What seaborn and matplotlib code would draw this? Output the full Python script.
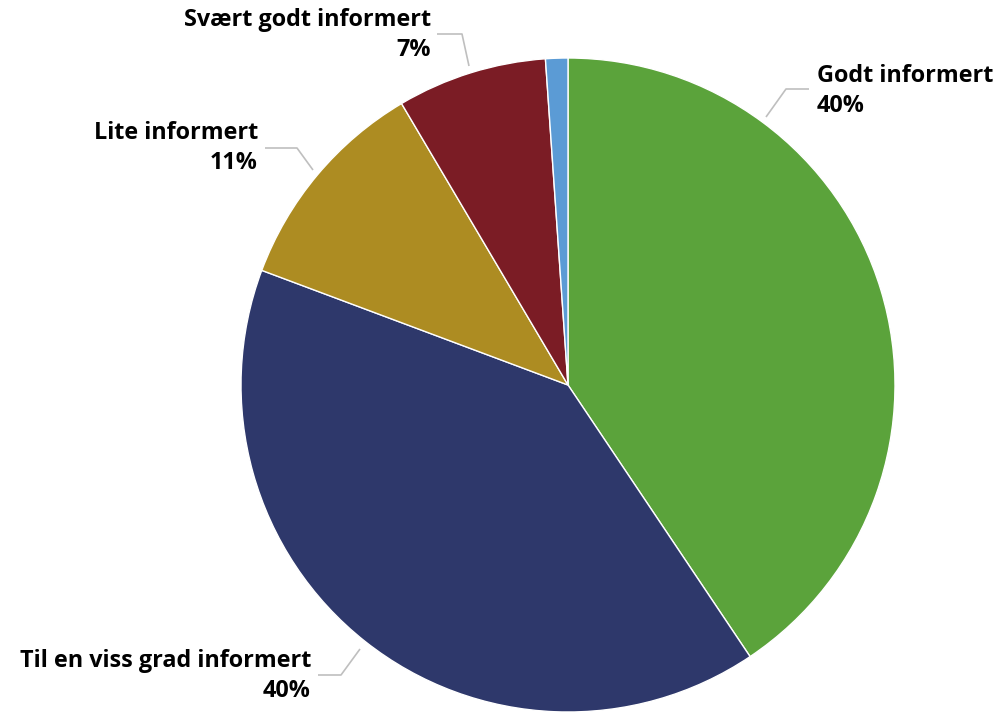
import matplotlib
matplotlib.use("Agg")
import matplotlib.pyplot as plt
import seaborn as sns

categories = ["Godt informert", "Til en viss grad informert", "Lite informert",
              "Svært godt informert", "Vet ikke"]
values = [40.6, 40.1, 10.8, 7.4, 1.1]
pct_labels = ["40%", "40%", "11%", "7%", None]
colors = sns.color_palette(["#5BA33B", "#2E386B", "#AD8C22", "#7B1C25", "#5B9BD5"])

sns.set_theme(style="white")
plt.rcParams['font.family'] = ['Open Sans', 'DejaVu Sans']

W, H = 1002, 713
fig = plt.figure(figsize=(W / 100, H / 100), dpi=100)
ax = fig.add_axes([0, 0, 1, 1])
ax.set_xlim(0, W)
ax.set_ylim(0, H)
ax.set_aspect('equal')
ax.axis('off')

cx, cy, r = 568, H - 385, 327
ax.pie(values, colors=colors, startangle=90, counterclock=False,
       center=(cx, cy), radius=r, frame=True,
       wedgeprops=dict(edgecolor='white', linewidth=1.0))
ax.set_xlim(0, W)
ax.set_ylim(0, H)
ax.axis('off')

# label layout: (text x, first line y, alignment, leader path in pixels)
layout = [
    (817, 76, 'left', [(766, 117), (786, 89), (809, 89)]),
    (311, 661, 'right', [(360, 649), (341, 675), (318, 675)]),
    (258, 133, 'right', [(313, 170), (297, 148), (265, 148)]),
    (431, 20, 'right', [(469, 66), (462, 34), (437, 34)]),
]
for (tx, ty, ha, path), cat, pct in zip(layout, categories, pct_labels):
    xs = [p[0] for p in path]
    ys = [H - p[1] for p in path]
    ax.plot(xs, ys, color='#BFBFBF', lw=1.2, solid_capstyle='butt')
    ax.text(tx, H - ty, cat, ha=ha, va='center', fontsize=16.8, fontweight='bold', color='black')
    ax.text(tx, H - ty - 30, pct, ha=ha, va='center', fontsize=16.8, fontweight='bold', color='black')

fig.savefig("out.png", dpi=100)
